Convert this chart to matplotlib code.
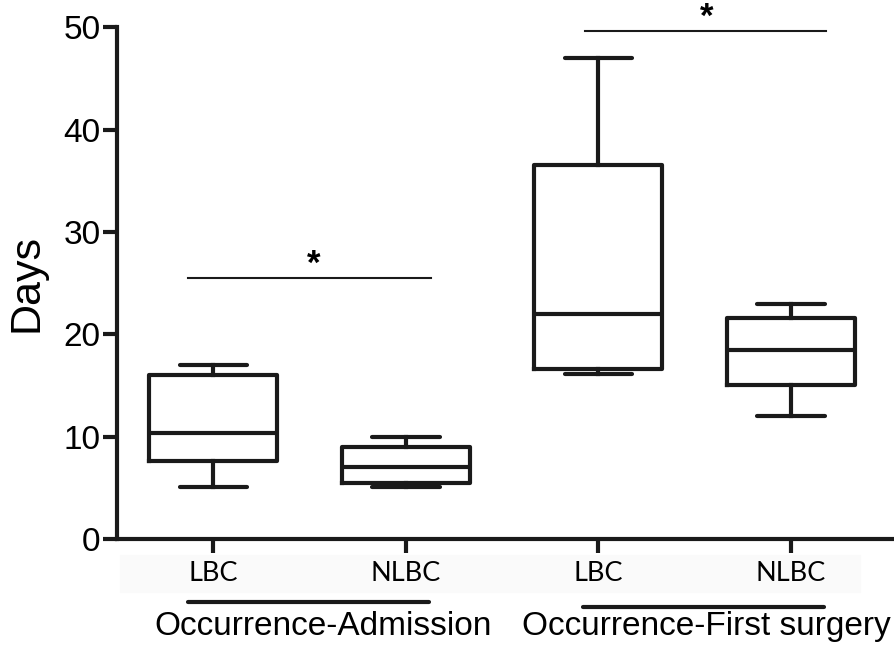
import matplotlib.pyplot as plt
from matplotlib.patches import Rectangle
import matplotlib.transforms as mtransforms

# values (days)
groups = ['Occurrence-Admission', 'Occurrence-First surgery']
tick_labels = ['LBC', 'NLBC', 'LBC', 'NLBC']
whislo = [5.05, 5.1, 16.1, 12.0]
q1 = [7.65, 5.5, 16.6, 15.0]
med = [10.3, 7.0, 22.0, 18.5]
q3 = [16.05, 9.0, 36.5, 21.55]
whishi = [17.0, 10.0, 47.0, 23.0]
sig_y = [25.5, 49.6]

plt.rcParams['font.family'] = ['Liberation Sans', 'DejaVu Sans']

fig = plt.figure(figsize=(8.94, 6.5), dpi=100)
ax = fig.add_axes([0.131, 0.171, 0.869, 0.787])

stats = []
for i in range(4):
    stats.append(dict(whislo=whislo[i], q1=q1[i], med=med[i], q3=q3[i],
                      whishi=whishi[i], fliers=[], label=tick_labels[i]))

lw = 3
ink = '#1a1a1a'
ax.bxp(stats, positions=[1, 2, 3, 4], widths=0.665, showfliers=False,
       capwidths=0.35,
       boxprops=dict(linewidth=lw, color=ink),
       medianprops=dict(linewidth=lw, color=ink),
       whiskerprops=dict(linewidth=lw, color=ink),
       capprops=dict(linewidth=lw, color=ink, solid_capstyle='round'))

ax.set_ylim(0, 50)
ax.set_xlim(0.5, 4.535)
ax.set_yticks([0, 10, 20, 30, 40, 50])
ax.set_xticks([1, 2, 3, 4])
ax.set_xticklabels(tick_labels, family='Lato', fontsize=19.5)
ax.tick_params(axis='y', labelsize=24, width=lw, length=10, pad=2, color=ink)
ax.tick_params(axis='x', width=lw, length=10, pad=6, color=ink)
for s in ['top', 'right']:
    ax.spines[s].set_visible(False)
for s in ['left', 'bottom']:
    ax.spines[s].set_linewidth(lw)
    ax.spines[s].set_color(ink)
ax.set_ylabel('Days', fontsize=31, labelpad=12)

# significance bars
ax.plot([0.87, 2.13], [sig_y[0]] * 2, color=ink, lw=1.5)
ax.plot([2.93, 4.18], [sig_y[1]] * 2, color=ink, lw=1.5, clip_on=False)
for xs, ys in [(1.52, sig_y[0]), (3.56, sig_y[1])]:
    ax.annotate('*', (xs, ys), xytext=(0, 3), textcoords='offset points',
                ha='center', va='baseline', fontsize=25, fontweight='bold',
                annotation_clip=False)

# faint band behind category labels
fig.patches.append(Rectangle((120 / 894, 58 / 650), 740 / 894, 37 / 650,
                             transform=fig.transFigure, color='#fafafa', zorder=-1))

# group underlines and names
trans = mtransforms.blended_transform_factory(ax.transData, ax.transAxes)
ax.plot([0.87, 2.12], [-0.123, -0.123], transform=trans, clip_on=False,
        color=ink, lw=3, solid_capstyle='round')
ax.plot([2.92, 4.17], [-0.133, -0.133], transform=trans, clip_on=False,
        color=ink, lw=3, solid_capstyle='round')
ax.text(1.57, -0.172, groups[0], transform=trans, ha='center', va='center', fontsize=24)
ax.text(3.56, -0.172, groups[1], transform=trans, ha='center', va='center', fontsize=24)

fig.savefig('out.png', dpi=100)
